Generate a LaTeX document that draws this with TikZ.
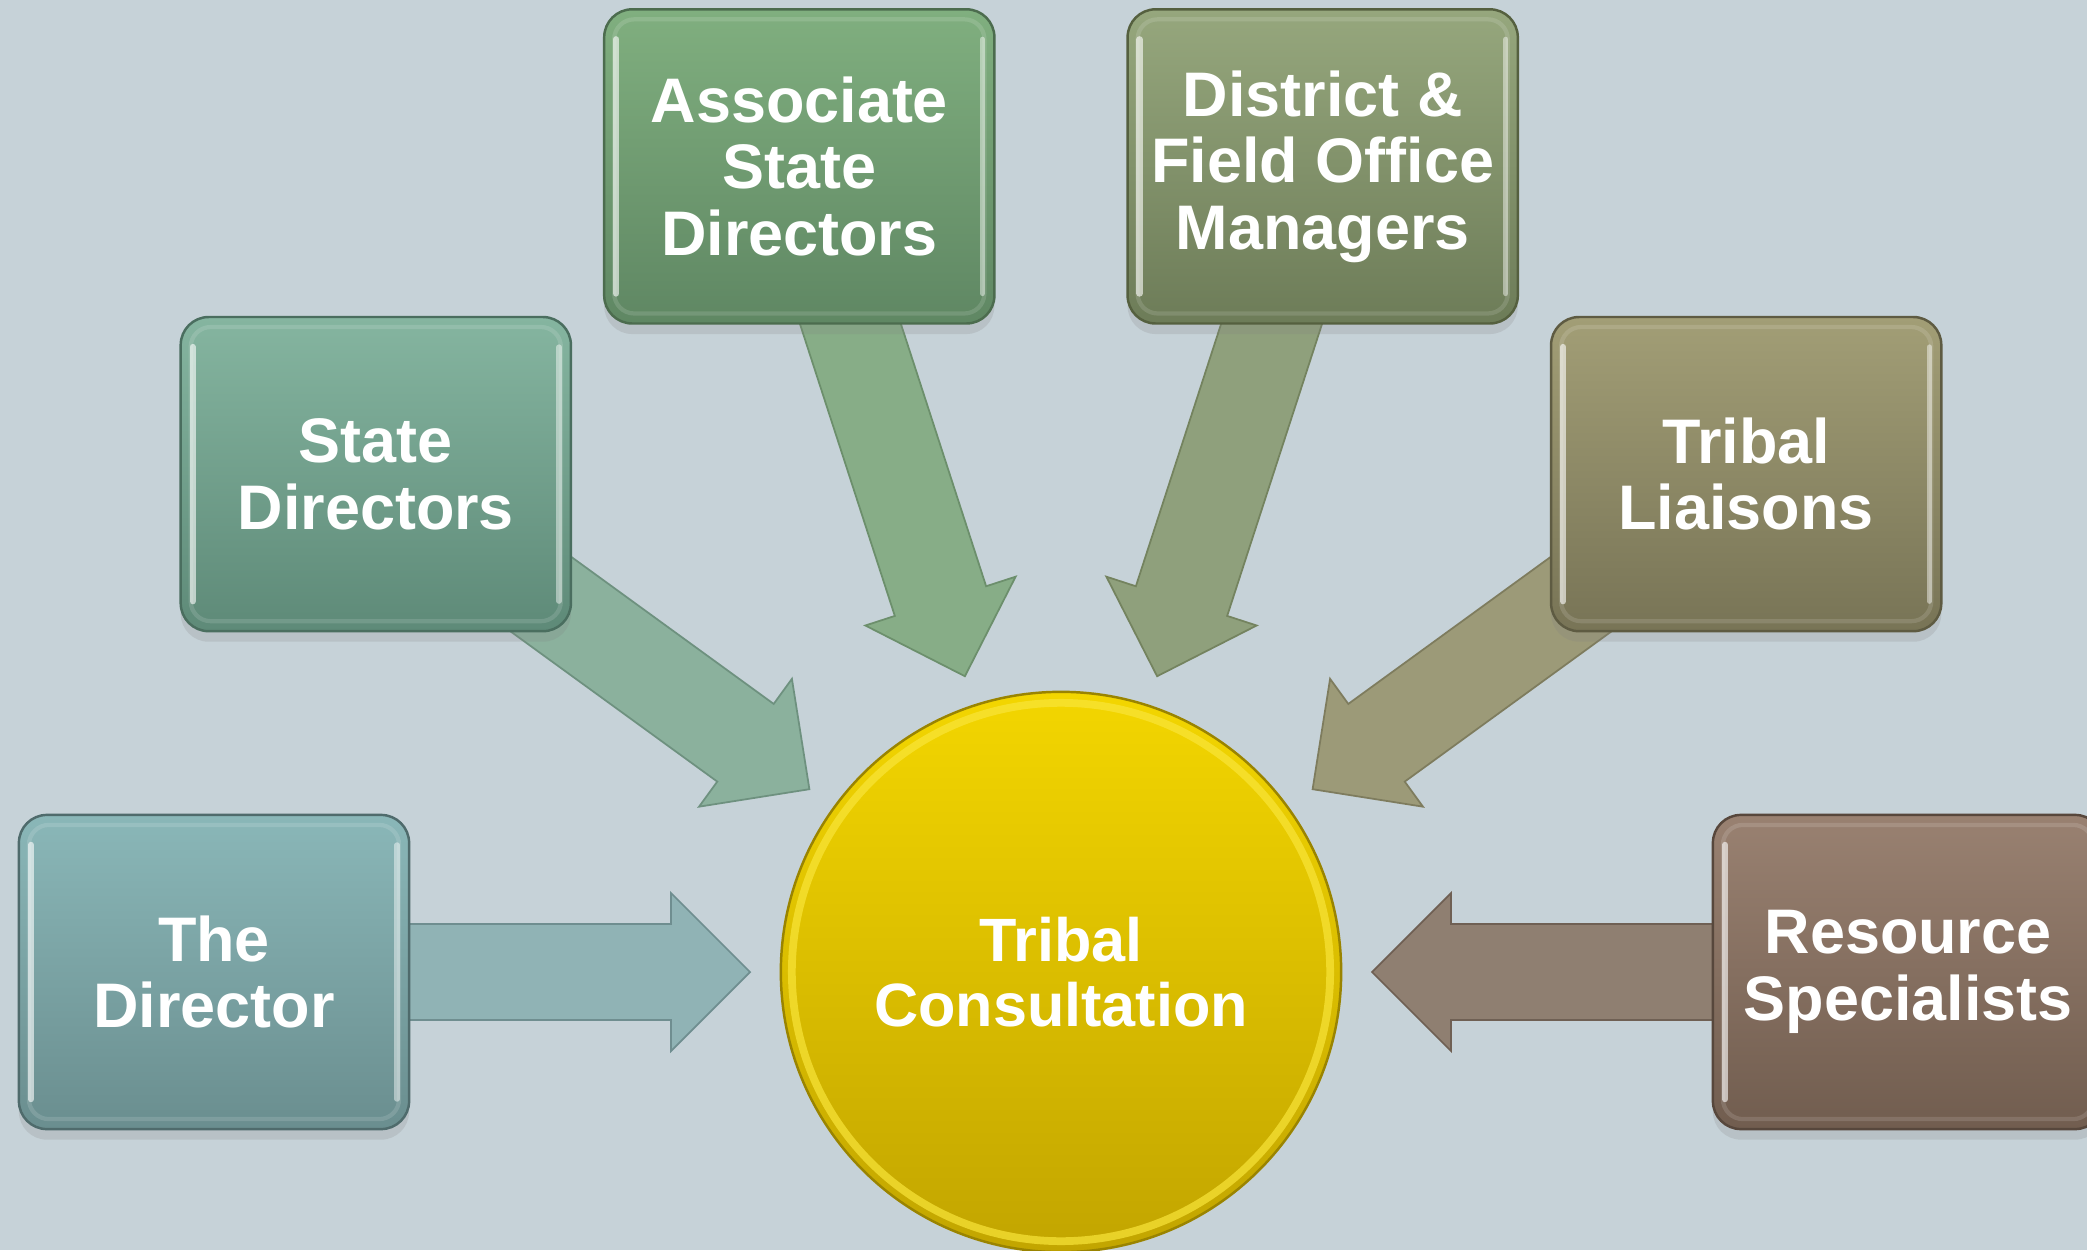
\documentclass[tikz,border=0pt]{standalone}
\usepackage{fontspec}
\setmainfont{Liberation Sans}
\usetikzlibrary{shadows,calc}
\definecolor{bgc}{HTML}{C6D2D8}
\definecolor{dirT}{HTML}{8AB7B8}\definecolor{dirB}{HTML}{6A8E8F}\definecolor{dirD}{HTML}{4F6B6C}
\definecolor{dirA}{HTML}{90B3B5}\definecolor{dirL}{HTML}{6F8E90}
\definecolor{sdT}{HTML}{85B5A0}\definecolor{sdB}{HTML}{5E8A78}\definecolor{sdD}{HTML}{4A6E5F}
\definecolor{sdA}{HTML}{8BB19D}\definecolor{sdL}{HTML}{6E917F}
\definecolor{asT}{HTML}{80AF7F}\definecolor{asB}{HTML}{5F8763}\definecolor{asD}{HTML}{4C6C4E}
\definecolor{asA}{HTML}{87AD87}\definecolor{asL}{HTML}{6C8F6C}
\definecolor{dfT}{HTML}{96A77D}\definecolor{dfB}{HTML}{6D7C58}\definecolor{dfD}{HTML}{55603F}
\definecolor{dfA}{HTML}{8FA07C}\definecolor{dfL}{HTML}{74835F}
\definecolor{tlT}{HTML}{A29E76}\definecolor{tlB}{HTML}{787456}\definecolor{tlD}{HTML}{5E5B42}
\definecolor{tlA}{HTML}{9C9A78}\definecolor{tlL}{HTML}{7E7C5E}
\definecolor{rsT}{HTML}{998171}\definecolor{rsB}{HTML}{715D4F}\definecolor{rsD}{HTML}{57473C}
\definecolor{rsA}{HTML}{8F7F71}\definecolor{rsL}{HTML}{6F6054}
\definecolor{tcT}{HTML}{F3D600}\definecolor{tcB}{HTML}{C2A500}\definecolor{tcD}{HTML}{9A8400}
\definecolor{tcR}{HTML}{F9E53A}
\pgfdeclarelayer{back}
\pgfdeclarelayer{arr}
\pgfsetlayers{back,arr,main}
\begin{document}
\begin{tikzpicture}[x=0.01cm,y=0.01cm,
  box/.style n args={3}{rounded corners=0.28cm, minimum width=3.9cm, minimum height=3.14cm,
    inner sep=0pt, align=center, text=white,
    font=\fontsize{17.9}{18.9}\selectfont\bfseries, line width=0.7pt,
    top color=#1, bottom color=#2, draw=#3,
    drop shadow={opacity=0.2, shadow xshift=0pt, shadow yshift=-3pt},
    path picture={
      \draw[white, opacity=0.13, line width=1.2pt, rounded corners=0.2cm]
        ($(path picture bounding box.south west)+(0.1cm,0.1cm)$) rectangle
        ($(path picture bounding box.north east)+(-0.1cm,-0.1cm)$);
      \draw[white, opacity=0.6, line width=1.8pt, line cap=round]
        ($(path picture bounding box.south west)+(0.12cm,0.3cm)$) --
        ($(path picture bounding box.north west)+(0.12cm,-0.3cm)$);
      \draw[white, opacity=0.45, line width=1.5pt, line cap=round]
        ($(path picture bounding box.south east)+(-0.12cm,0.3cm)$) --
        ($(path picture bounding box.north east)+(-0.12cm,-0.3cm)$);
    }},
  blockarrow/.style 2 args={fill=#1, draw=#2, line width=0.5pt, line join=miter}
]
\begin{pgfonlayer}{back}
  \fill[bgc] (0,0) rectangle (2087,1250);
\end{pgfonlayer}
\useasboundingbox (0,0) rectangle (2087,1250);
\clip (0,0) rectangle (2087,1250);

% centre circle
\node[circle, minimum size=5.6cm, inner sep=0pt, top color=tcT, bottom color=tcB,
  draw=tcD, line width=0.7pt, align=center, text=white,
  font=\fontsize{17.4}{18.5}\selectfont\bfseries,
  path picture={\draw[tcR, opacity=0.7, line width=2.2pt]
    (path picture bounding box.center) circle (2.69cm);}]
  (tc) at (1061,278) {Tribal\\Consultation};

% boxes
\node[box={dirT}{dirB}{dirD}] (dir) at (214,278) {The\\Director};
\node[box={sdT}{sdB}{sdD}] (sd) at (375.8,775.9) {State\\Directors};
\node[box={asT}{asB}{asD}] (as) at (799.3,1083.6) {Associate\\State\\Directors};
\node[box={dfT}{dfB}{dfD}] (df) at (1322.7,1083.6) {District \&\\Field Office\\Managers};
\node[box={tlT}{tlB}{tlD}] (tl) at (1746.2,775.9) {Tribal\\Liaisons};
\node[box={rsT}{rsB}{rsD}] (rs) at (1908,278) {Resource\\Specialists};

% block arrows from each box towards the circle
\begin{pgfonlayer}{arr}
  \path[blockarrow={dirA}{dirL}, shift={(tc.center)}, rotate=180]
    (311,0) -- (390,79) -- (390,48) -- (847,48) -- (847,-48) -- (390,-48) -- (390,-79) -- cycle;
  \path[blockarrow={sdA}{sdL}, shift={(tc.center)}, rotate=144]
    (311,0) -- (390,79) -- (390,48) -- (847,48) -- (847,-48) -- (390,-48) -- (390,-79) -- cycle;
  \path[blockarrow={asA}{asL}, shift={(tc.center)}, rotate=108]
    (311,0) -- (390,79) -- (390,48) -- (847,48) -- (847,-48) -- (390,-48) -- (390,-79) -- cycle;
  \path[blockarrow={dfA}{dfL}, shift={(tc.center)}, rotate=72]
    (311,0) -- (390,79) -- (390,48) -- (847,48) -- (847,-48) -- (390,-48) -- (390,-79) -- cycle;
  \path[blockarrow={tlA}{tlL}, shift={(tc.center)}, rotate=36]
    (311,0) -- (390,79) -- (390,48) -- (847,48) -- (847,-48) -- (390,-48) -- (390,-79) -- cycle;
  \path[blockarrow={rsA}{rsL}, shift={(tc.center)}, rotate=0]
    (311,0) -- (390,79) -- (390,48) -- (847,48) -- (847,-48) -- (390,-48) -- (390,-79) -- cycle;
\end{pgfonlayer}
\end{tikzpicture}
\end{document}
